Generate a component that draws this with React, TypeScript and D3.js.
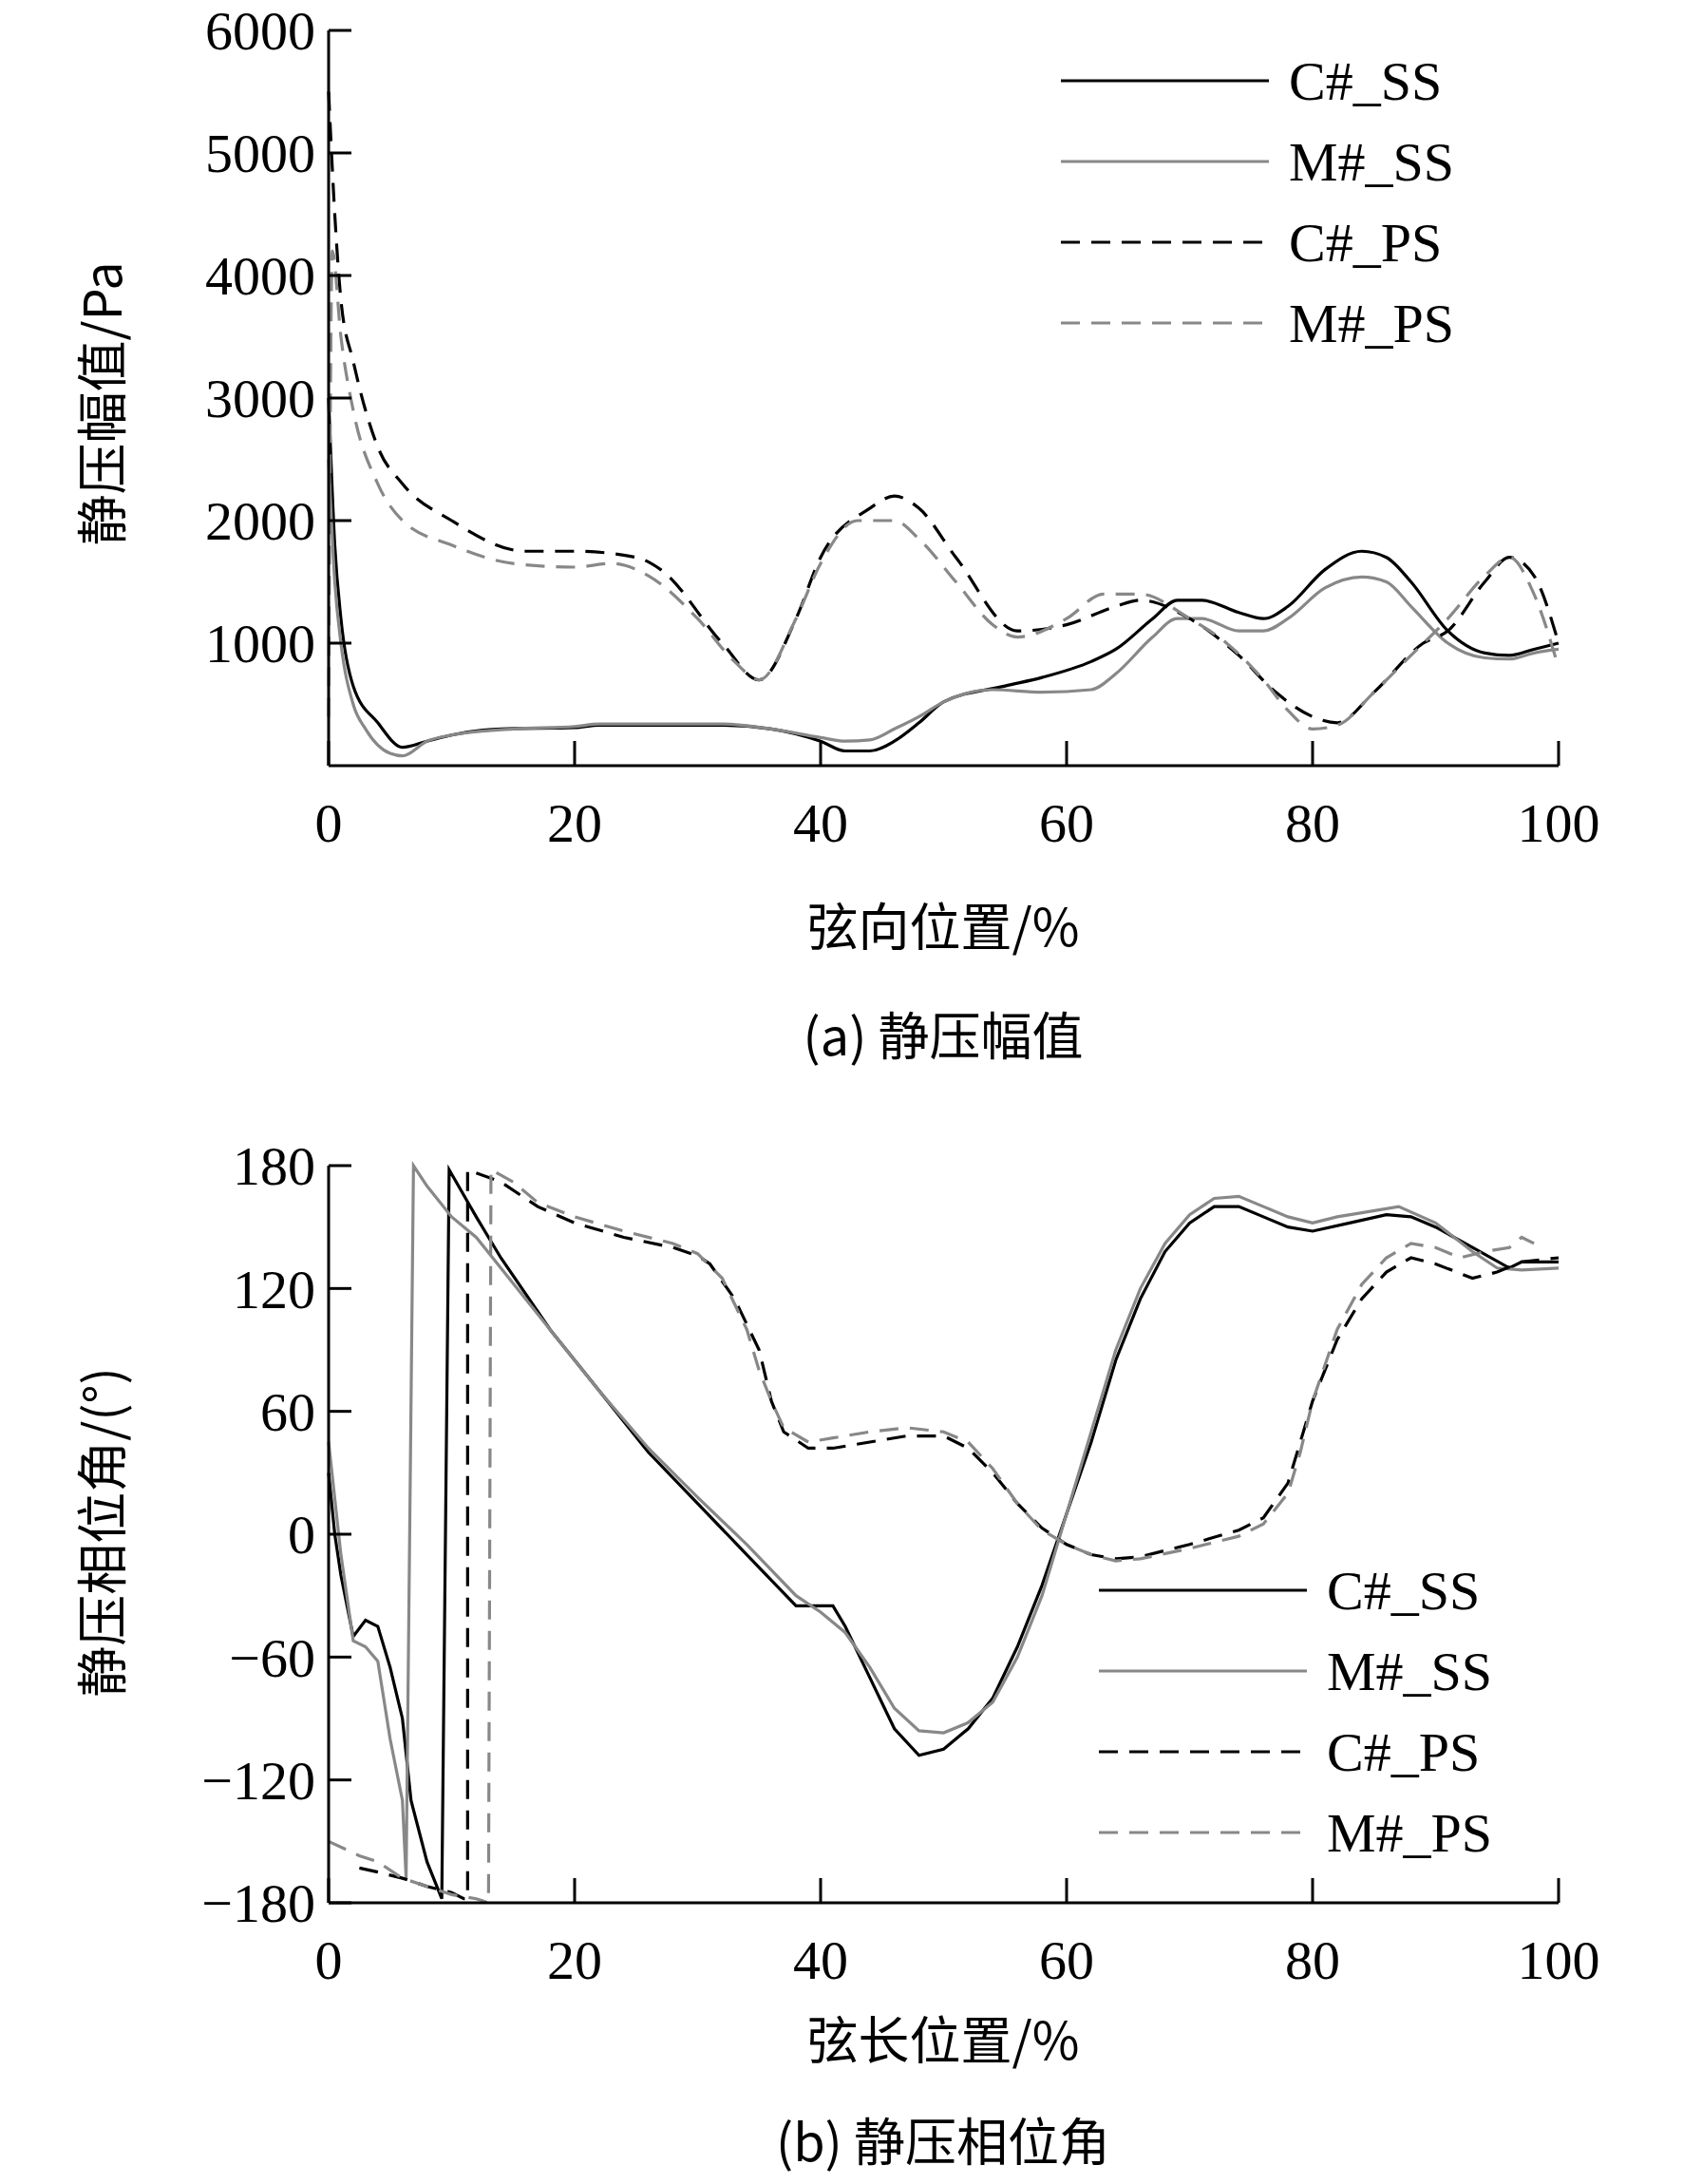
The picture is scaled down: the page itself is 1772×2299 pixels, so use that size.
import React from "react";
import * as d3 from "d3";

type P = [number, number];
const xTicks = [0, 20, 40, 60, 80, 100];
const ampTicks = [1000, 2000, 3000, 4000, 5000, 6000];
const phaseTicks = [-180, -120, -60, 0, 60, 120, 180];
const seriesNames = ["C#_SS", "M#_SS", "C#_PS", "M#_PS"];

const ampCSS: P[] = [[0,3000],[0.5,1800],[1,1200],[2,650],[4,350],[6,150],[8,200],[10,250],[14,300],[20,310],[22,330],[26,330],[32,330],[36,300],[40,200],[42,120],[44,120],[46,200],[48,350],[50,520],[55,650],[58,720],[62,850],[64,950],[67,1200],[69,1350],[71,1350],[74,1250],[76,1200],[78,1300],[81,1600],[84,1750],[86,1700],[88,1500],[91,1100],[94,920],[96,900],[98,950],[100,1000]];
const ampMSS: P[] = [[0,2500],[0.5,1500],[1,1000],[2,500],[3,300],[5,100],[6,80],[8,200],[10,250],[15,300],[20,320],[22,340],[32,340],[36,300],[40,230],[42,200],[44,210],[46,300],[48,400],[50,520],[54,620],[58,600],[62,620],[64,750],[67,1050],[69,1200],[71,1200],[74,1100],[76,1100],[78,1200],[81,1450],[84,1540],[86,1500],[88,1300],[91,1000],[94,880],[96,870],[98,920],[100,950]];
const ampCPS: P[] = [[0,5500],[0.5,4500],[1,3800],[2,3300],[4,2600],[6,2300],[10,2000],[16,1750],[20,1750],[25,1700],[27,1600],[32,1000],[35,700],[38,1200],[40,1700],[44,2100],[46,2200],[48,2100],[51,1700],[56,1100],[60,1150],[64,1300],[66,1350],[70,1200],[74,900],[77,600],[80,400],[82,350],[85,600],[89,1000],[91,1100],[94,1500],[96,1700],[98,1550],[100,1000]];
const ampMPS: P[] = [[0,400],[0.3,4200],[1,3500],[2,2900],[4,2300],[6,2000],[10,1800],[15,1650],[20,1620],[23,1650],[26,1550],[30,1200],[33,850],[35,700],[38,1200],[40,1650],[43,2000],[46,2000],[48,1850],[51,1500],[54,1150],[56,1050],[60,1200],[63,1400],[66,1400],[70,1200],[73,1000],[76,700],[78,450],[80,300],[82,330],[85,600],[88,900],[91,1200],[94,1550],[96,1700],[98,1400],[100,800]];

const phCSS: P[] = [[0,30],[0.5,0],[1,-20],[2,-50],[3,-42],[4,-45],[5,-65],[6,-90],[6.7,-130],[8,-160],[9.2,-178],[9.8,178],[12,155],[14,135],[18,100],[22,70],[26,40],[30,15],[34,-10],[38,-35],[41,-35],[42,-45],[44,-70],[46,-95],[48,-108],[50,-105],[52,-95],[54,-80],[56,-55],[58,-25],[60,10],[62,45],[64,85],[66,115],[68,138],[70,152],[72,160],[74,160],[76,155],[78,150],[80,148],[83,152],[86,156],[88,155],[90,150],[93,140],[96,130],[97,133],[100,133]];
const phMSS: P[] = [[0,45],[1,-10],[2,-52],[3,-55],[4,-62],[5,-100],[6,-130],[6.3,-168],[6.9,180],[8,170],[10,155],[12,145],[14,130],[18,100],[22,70],[26,42],[30,18],[34,-5],[38,-30],[40,-38],[42,-48],[44,-65],[46,-85],[48,-96],[50,-97],[52,-92],[54,-82],[56,-60],[58,-30],[60,10],[62,50],[64,90],[66,120],[68,142],[70,156],[72,164],[74,165],[76,160],[78,155],[80,152],[82,155],[84,157],[87,160],[90,152],[93,138],[95,130],[97,129],[100,130]];
const phCPS: P[] = [[2.5,-163],[4,-165],[6,-168],[8,-172],[10,-175],[11,-178],[11.3,-178],[11.3,178],[14,172],[17,160],[20,152],[24,145],[28,140],[30,136],[31,132],[33,115],[35,90],[36,65],[37,50],[39,42],[41,42],[44,45],[47,48],[50,48],[52,42],[54,30],[56,15],[58,3],[60,-5],[62,-10],[64,-12],[66,-11],[70,-5],[74,2],[76,8],[78,25],[79,45],[80,65],[82,95],[84,115],[86,128],[88,135],[90,132],[93,125],[95,128],[97,133],[100,135]];
const phMPS: P[] = [[0,-150],[2.5,-157],[4,-160],[6,-168],[8,-172],[10,-176],[12,-178],[13,-180],[13.2,178],[15,172],[17,162],[20,155],[24,148],[28,142],[30,137],[32,125],[34,100],[35,80],[36,65],[37,52],[39,45],[41,47],[44,50],[47,52],[50,50],[52,45],[54,32],[56,15],[58,2],[60,-5],[62,-10],[64,-13],[66,-12],[70,-7],[74,-1],[76,5],[78,20],[79,40],[80,65],[82,100],[84,122],[86,135],[88,142],[90,140],[92,135],[94,138],[96,140],[97,145],[98,142]];

const styles = [
  { color: "#000", dash: "none" },
  { color: "#888", dash: "none" },
  { color: "#000", dash: "20,12" },
  { color: "#888", dash: "20,12" },
];
const FONT = "'Liberation Serif','Times New Roman',serif";
const CJK = "'Noto Sans CJK SC',sans-serif";

function Panel(props: {
  top: number; bottom: number; domain: [number, number]; ticks: number[];
  tickFmt: (v: number) => string; series: P[][]; ylabel: string; xlabel: string;
  caption: string; legendX: number; legendY: number; ylabelY: number;
  xlabelDy: number; captionDy: number;
}) {
  const x = d3.scaleLinear().domain([0, 100]).range([346, 1641]);
  const y = d3.scaleLinear().domain(props.domain).range([props.bottom, props.top]);
  const line = d3.line<P>().x(d => x(d[0])).y(d => y(d[1])).curve(d3.curveMonotoneX);
  const lineRaw = d3.line<P>().x(d => x(d[0])).y(d => y(d[1]));
  return (
    <g>
      {props.series.map((s, i) => (
        <path key={i} d={(props.domain[0] < 0 ? lineRaw(s) : line(s)) || ""} fill="none" stroke={styles[i].color}
          strokeWidth={3.2} strokeDasharray={styles[i].dash} />
      ))}
      <line x1={x(0)} x2={x(0)} y1={props.top} y2={props.bottom} stroke="#000" strokeWidth={3} />
      <line x1={x(0)} x2={x(100)} y1={props.bottom} y2={props.bottom} stroke="#000" strokeWidth={3} />
      {props.ticks.map(t => (
        <g key={t}>
          <line x1={x(0)} x2={x(0) + 24} y1={y(t)} y2={y(t)} stroke="#000" strokeWidth={3} />
          <text x={x(0) - 14} y={y(t)} dy="0.35em" textAnchor="end" fontSize={58} fontFamily={FONT}>{props.tickFmt(t)}</text>
        </g>
      ))}
      {xTicks.map(t => (
        <g key={t}>
          <line x1={x(t)} x2={x(t)} y1={props.bottom} y2={props.bottom - 26} stroke="#000" strokeWidth={3} />
          <text x={x(t)} y={props.bottom + 80} textAnchor="middle" fontSize={58} fontFamily={FONT}>{t}</text>
        </g>
      ))}
      <text transform={`translate(128,${props.ylabelY}) rotate(-90)`} textAnchor="middle" fontSize={54} fontFamily={CJK}>{props.ylabel}</text>
      <text x={993} y={props.bottom + props.xlabelDy} textAnchor="middle" fontSize={54} fontFamily={CJK}>{props.xlabel}</text>
      <text x={993} y={props.bottom + props.captionDy} textAnchor="middle" fontSize={54} fontFamily={CJK}>{props.caption}</text>
      {seriesNames.map((n, i) => (
        <g key={n}>
          <line x1={props.legendX} x2={props.legendX + 219} y1={props.legendY + i * 85} y2={props.legendY + i * 85}
            stroke={styles[i].color} strokeWidth={3.2} strokeDasharray={styles[i].dash} />
          <text x={props.legendX + 240} y={props.legendY + i * 85} dy="0.35em" fontSize={58} fontFamily={FONT}>{n}</text>
        </g>
      ))}
    </g>
  );
}

export default function App() {
  return (
    <svg width={1772} height={2299} style={{ display: "block", background: "#fff", position: "absolute", left: 0, top: 0 }}>
      <Panel top={32} bottom={806} domain={[0, 6000]} ticks={ampTicks} tickFmt={v => String(v)}
        series={[ampCSS, ampMSS, ampCPS, ampMPS]} ylabel="静压幅值/Pa" xlabel="弦向位置/%"
        caption="(a) 静压幅值" legendX={1117} legendY={85} ylabelY={425} xlabelDy={190} captionDy={305} />
      <Panel top={1227} bottom={2003} domain={[-180, 180]} ticks={phaseTicks} tickFmt={v => (v < 0 ? "\u2212" + Math.abs(v) : String(v))}
        series={[phCSS, phMSS, phCPS, phMPS]} ylabel="静压相位角/(°)" xlabel="弦长位置/%"
        caption="(b) 静压相位角" legendX={1157} legendY={1674} ylabelY={1613} xlabelDy={165} captionDy={272} />
    </svg>
  );
}
